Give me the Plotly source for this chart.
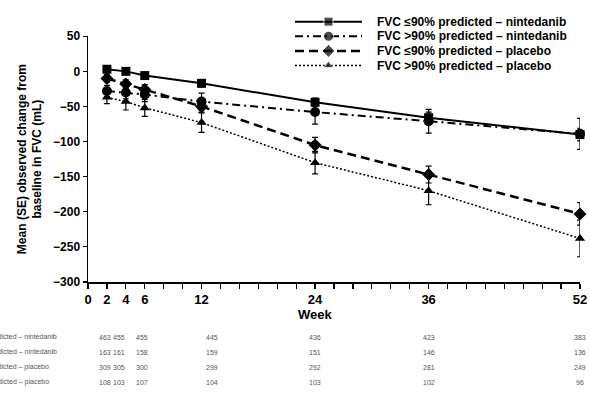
import plotly.graph_objects as go

# ---------------- data ----------------
weeks = [2, 4, 6, 12, 24, 36, 52]
tick_weeks = [0, 2, 4, 6, 12, 24, 36, 52]

series_names = [
    "FVC ≤90% predicted – nintedanib",
    "FVC >90% predicted – nintedanib",
    "FVC ≤90% predicted – placebo",
    "FVC >90% predicted – placebo",
]
le90_nin = [3, 0, -6, -17, -44, -66, -90]
le90_nin_se = [4, 4, 4, 5, 6, 8, 9]
gt90_nin = [-28, -30, -33, -43, -58, -71, -89]
gt90_nin_se = [8, 9, 10, 12, 17, 17, 22]
le90_pla = [-10, -18, -26, -50, -105, -147, -203]
le90_pla_se = [5, 6, 7, 8, 11, 12, 16]
gt90_pla = [-37, -43, -52, -73, -130, -170, -238]
gt90_pla_se = [9, 12, 12, 14, 16, 20, 26]

# numbers at risk
n_le90_nin = [463, 455, 455, 445, 436, 423, 383]
n_gt90_nin = [163, 161, 158, 159, 151, 146, 136]
n_le90_pla = [309, 305, 300, 299, 292, 281, 249]
n_gt90_pla = [108, 103, 107, 104, 103, 102, 96]
n_label_weeks = [1.8, 3.3, 5.75, 13.1, 24, 36, 52]

values = [le90_nin, gt90_nin, le90_pla, gt90_pla]
errors = [le90_nin_se, gt90_nin_se, le90_pla_se, gt90_pla_se]
n_rows = [n_le90_nin, n_gt90_nin, n_le90_pla, n_gt90_pla]

# ---------------- styles ----------------
dashes = ["solid", "8px,4px,2px,4px", "9px,5px", "2px,2px"]
widths = [2, 2, 2.5, 1.5]
symbols = ["square", "circle", "diamond", "triangle-up"]
msizes = [9, 10, 10, 9]

FONT = "Liberation Sans, Arial, sans-serif"
W, H = 590, 393
L, R, T, B = 88, 10, 0, 111
plot_w = W - L - R
paper_h = H - T - B  # 282
plot_top_px = 30
ydom_top = 1 - plot_top_px / paper_h

fig = go.Figure()

for i in range(4):
    fig.add_trace(go.Scatter(
        x=weeks, y=values[i], mode="lines+markers",
        line=dict(color="black", width=widths[i], dash=dashes[i]),
        marker=dict(symbol=symbols[i], size=msizes[i], color="black"),
        error_y=dict(type="data", array=errors[i], color="black",
                     thickness=1.2, width=3),
        showlegend=False, name=series_names[i], cliponaxis=False,
    ))

# manual legend on an independent full-area subplot
leg_rows_px = [15, 30, 45, 60]
lx0, lx1, lxm, ltx = 295, 362, 328.5, 375
def px_x(p):
    return (p - L) / plot_w
def px_y(p):
    return 1 - p / paper_h

for i in range(4):
    yy = px_y(leg_rows_px[i])
    fig.add_trace(go.Scatter(
        x=[px_x(lx0), px_x(lxm), px_x(lx1)], y=[yy, yy, yy],
        xaxis="x2", yaxis="y2", mode="lines+markers",
        line=dict(color="black", width=widths[i], dash=dashes[i]),
        marker=dict(symbol=symbols[i], size=[0, msizes[i], 0], color="black"),
        showlegend=False, hoverinfo="skip",
    ))
    fig.add_annotation(
        x=px_x(ltx), y=yy, xref="x2", yref="y2", text=series_names[i],
        showarrow=False, xanchor="left", yanchor="middle",
        font=dict(family=FONT, size=12, color="black", weight="bold"),
    )

# number-at-risk table
row_px = [338.5, 354, 369.5, 385]
for r in range(4):
    yy = 1 - row_px[r] / paper_h
    fig.add_annotation(
        x=(-50 - L) / plot_w, y=yy, xref="paper", yref="paper",
        text=series_names[r], showarrow=False, xanchor="left",
        yanchor="middle", font=dict(family=FONT, size=7, color="#555"),
    )
    for c in range(len(weeks)):
        fig.add_annotation(
            x=n_label_weeks[c], y=yy, xref="x", yref="paper",
            text=str(n_rows[r][c]), showarrow=False, xanchor="center",
            yanchor="middle", font=dict(family=FONT, size=7, color="#555"),
        )

# axis titles
fig.add_annotation(
    x=(30 - L) / plot_w, y=1 - 156 / paper_h, xref="paper", yref="paper",
    text="Mean (SE) observed change from<br>baseline in FVC (mL)",
    textangle=-90, showarrow=False, xanchor="center", yanchor="middle",
    font=dict(family=FONT, size=12, color="black", weight="bold"),
)
fig.add_annotation(
    x=24, y=1 - 315 / paper_h, xref="x", yref="paper", text="Week",
    showarrow=False, xanchor="center", yanchor="middle",
    font=dict(family=FONT, size=13, color="black", weight="bold"),
)

fig.update_layout(
    width=W, height=H,
    margin=dict(l=L, r=R, t=T, b=B, pad=0),
    paper_bgcolor="white", plot_bgcolor="rgba(0,0,0,0)",
    font=dict(family=FONT, color="black"),
    hovermode=False,
    xaxis=dict(
        range=[0, 52], domain=[0, 1], anchor="y",
        tickvals=tick_weeks, ticktext=[str(t) for t in tick_weeks],
        ticks="outside", ticklen=5, tickwidth=1.2, tickcolor="black",
        showline=True, linecolor="black", linewidth=1.5,
        showgrid=False, zeroline=False,
        tickfont=dict(family=FONT, size=13, color="black", weight="bold"),
        minor=dict(tickvals=list(range(0, 53, 2)), ticks="outside",
                   ticklen=5, tickwidth=1.2, tickcolor="black", showgrid=False),
    ),
    yaxis=dict(
        range=[-300, 50], domain=[0, ydom_top], anchor="x",
        tickvals=[50, 0, -50, -100, -150, -200, -250, -300],
        ticks="outside", ticklen=4, tickwidth=1.2, tickcolor="black",
        showline=True, linecolor="black", linewidth=1.5,
        showgrid=False, zeroline=False,
        tickfont=dict(family=FONT, size=12, color="black", weight="bold"),
    ),
    xaxis2=dict(range=[0, 1], domain=[0, 1], anchor="y2", visible=False,
                fixedrange=True),
    yaxis2=dict(range=[0, 1], domain=[0, 1], anchor="x2", visible=False,
                fixedrange=True),
)

fig.write_html(
    "out.html",
    config={"displayModeBar": False, "staticPlot": True},
    post_script="document.body.style.margin='0';document.body.style.overflow='hidden';",
)
